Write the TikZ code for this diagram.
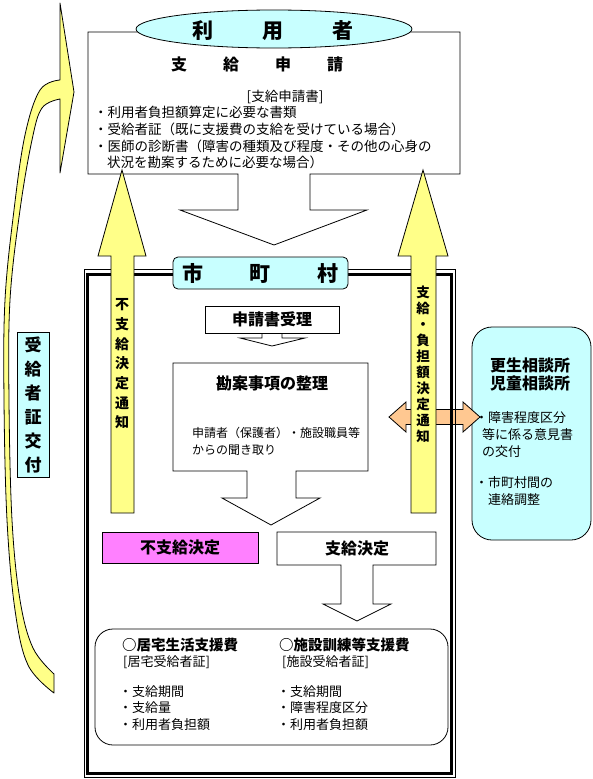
\documentclass[tikz,border=0pt]{standalone}
\usepackage{fontspec}
\newfontfamily\jp{Noto Sans CJK JP}
\usetikzlibrary{shapes.geometric}
\definecolor{yel}{RGB}{255,255,136}
\definecolor{cya}{RGB}{200,255,255}
\definecolor{mag}{RGB}{255,128,255}
\definecolor{ora}{RGB}{255,200,145}
\tikzset{
  ln/.style={draw=black, line width=0.8pt, line join=miter},
  tx/.style={font=\jp\fontsize{13.5}{16}\selectfont, inner sep=0pt, anchor=west},
  txs/.style={font=\jp\fontsize{13}{16}\selectfont, inner sep=0pt, anchor=west},
  bd/.style={font=\jp\bfseries\fontsize{16}{19}\selectfont, inner sep=0pt},
  bdl/.style={font=\jp\bfseries\fontsize{14.5}{17}\selectfont, inner sep=0pt, anchor=west},
}
\begin{document}
\begin{tikzpicture}[x=1pt,y=-1pt]
\useasboundingbox (0,0) rectangle (592,779);
\fill[white] (0,0) rectangle (592,779);

% curved arrow on the left
\draw[ln, fill=yel, line join=round] (60,3) -- (74,92) -- (60,173) -- (60,99)
  -- plot[smooth, tension=0.6] coordinates {(60,99) (42,108) (32,140) (20,210) (10,300) (9,400) (12,520) (20,600) (33,648) (54,674)}
  -- (54,693)
  -- plot[smooth, tension=0.6] coordinates {(54,693) (28,665) (15,610) (7,520) (4,400) (5,300) (14,210) (25,135) (40,90) (60,80)}
  -- cycle;

% top box merged with down arrow
\draw[ln, fill=white] (88,32) -- (460,32) -- (460,174) -- (310,174) -- (310,210) -- (367,210)
  -- (274,245) -- (180,210) -- (238,210) -- (238,174) -- (88,174) -- cycle;
\node[ellipse, ln, fill=cya, minimum width=276pt, minimum height=38pt, inner sep=0pt] (riyoshaell) at (274,29) {};
\node[font=\jp\bfseries\fontsize{21}{24}\selectfont, inner sep=0pt] (riyosha) at (273,31) {利\hspace{49pt}用\hspace{49pt}者};
\node[bd] (shikyushinsei) at (257,64) {支\hspace{36pt}給\hspace{36pt}申\hspace{36pt}請};
\node[tx, anchor=center] (shoshorui) at (285,97) {[支給申請書]};
\node[tx] (l1) at (94,112) {・利用者負担額算定に必要な書類};
\node[tx] (l2) at (94,129) {・受給者証（既に支援費の支給を受けている場合）};
\node[tx] (l3) at (94,146) {・医師の診断書（障害の種類及び程度・その他の心身の};
\node[tx] (l4) at (107,162) {状況を勘案するために必要な場合）};

% consultation office box
\node[ln, fill=cya, rounded corners=20pt, minimum width=119pt, minimum height=213pt, inner sep=0pt] (sodanjo) at (531.5,433.5) {};
\node[bd] (kosei) at (530,365) {更生相談所};
\node[bd] (jido) at (530,383) {児童相談所};
\node[txs] (s1) at (475,418) {・障害程度区分};
\node[txs] (s2) at (482,435) {等に係る意見書};
\node[txs] (s3) at (482,452) {の交付};
\node[txs] (s4) at (475,483) {・市町村間の};
\node[txs] (s5) at (488,500) {連絡調整};

% orange double arrow
\draw[ln, fill=ora] (389,417) -- (406,402) -- (406,409.5) -- (463,409.5) -- (463,402) -- (480,417)
  -- (463,432) -- (463,424.5) -- (406,424.5) -- (406,432) -- cycle;

% municipality frame
\draw[black, line width=0.8pt] (84,269) rectangle (455.5,777);
\draw[black, line width=3pt] (87.5,274) rectangle (451.5,773);

% certificate issuing label
\node[ln, fill=cya, minimum width=32pt, minimum height=145pt, inner sep=0pt, align=center,
  font=\jp\bfseries\fontsize{17}{24}\selectfont] (kofu) at (33,404.5) {受\\給\\者\\証\\交\\付};

% yellow upward arrows
\draw[ln, fill=yel] (122,170) -- (146,256) -- (134,256) -- (134,513) -- (111,513) -- (111,256) -- (98,256) -- cycle;
\node[font=\jp\bfseries\fontsize{14}{19.7}\selectfont, align=center, inner sep=0pt] (futsuchi) at (122,364) {不\\支\\給\\決\\定\\通\\知};
\draw[ln, fill=yel] (423,170) -- (448,256) -- (436,256) -- (436,513) -- (411,513) -- (411,256) -- (398,256) -- cycle;
\node[font=\jp\bfseries\fontsize{13.5}{16}\selectfont, align=center, inner sep=0pt] (tsuchi) at (423,364) {支\\給\\・\\負\\担\\額\\決\\定\\通\\知};

% municipality label
\node[ln, fill=cya, rounded corners=5pt, minimum width=175pt, minimum height=32pt, inner sep=0pt,
  font=\jp\bfseries\fontsize{21}{24}\selectfont] (shichoson) at (260.5,273) {市\hspace{47pt}町\hspace{47pt}村};

% application receipt
\draw[ln, fill=white] (262,333) -- (262,338) -- (240,338) -- (272,346) -- (305,338) -- (282,338) -- (282,333);
\node[ln, fill=white, minimum width=134pt, minimum height=27pt, bd] (juri) at (272,319.5) {申請書受理};

% consideration box with arrow
\draw[ln, fill=white] (173,363) -- (368,363) -- (368,471) -- (296,471) -- (296,498) -- (320,498)
  -- (271,525) -- (222,498) -- (247,498) -- (247,471) -- (173,471) -- cycle;
\node[bd] (kanan) at (272,383) {勘案事項の整理};
\node[font=\jp\fontsize{12}{15}\selectfont, inner sep=0pt, anchor=west] (kiki1) at (192,433) {申請者（保護者）・施設職員等};
\node[font=\jp\fontsize{12}{15}\selectfont, inner sep=0pt, anchor=west] (kiki2) at (192,450) {からの聞き取り};

% decisions
\node[ln, fill=mag, minimum width=156pt, minimum height=31pt, bd] (fushikyu) at (180,547.5) {不支給決定};
\draw[ln, fill=white] (277,532) -- (436,532) -- (436,565) -- (373,565) -- (373,604) -- (391,604)
  -- (357,621) -- (323,604) -- (341,604) -- (341,565) -- (277,565) -- cycle;
\node[bd] (shikyu) at (357,548) {支給決定};

% certificates box
\node[ln, fill=white, rounded corners=18pt, minimum width=353pt, minimum height=116pt, inner sep=0pt] (jukyusho) at (271.5,687) {};
\node[bdl] (kyotaku) at (122,645) {○居宅生活支援費};
\node[txs] (kyotakusho) at (123,662) {[居宅受給者証]};
\node[txs] (k1) at (119,692) {・支給期間};
\node[txs] (k2) at (119,708) {・支給量};
\node[txs] (k3) at (119,725) {・利用者負担額};
\node[bdl] (shisetsu) at (279,645) {○施設訓練等支援費};
\node[txs] (shisetsusho) at (282,662) {[施設受給者証]};
\node[txs] (h1) at (277,692) {・支給期間};
\node[txs] (h2) at (277,708) {・障害程度区分};
\node[txs] (h3) at (277,725) {・利用者負担額};
\end{tikzpicture}
\end{document}
